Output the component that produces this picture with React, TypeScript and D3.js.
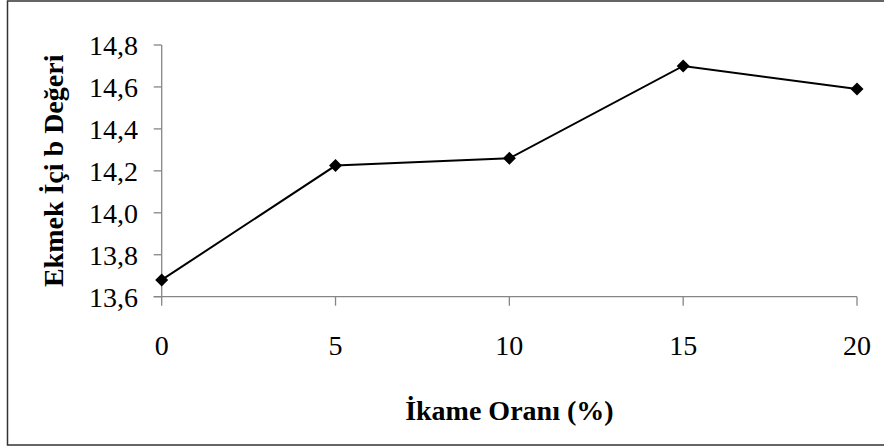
import React from "react";
import * as d3 from "d3";

// Substitution ratio (%) and crumb b* value
const ratios: number[] = [0, 5, 10, 15, 20];
const bValues: number[] = [13.68, 14.225, 14.26, 14.7, 14.59];
const yTicks: number[] = [13.6, 13.8, 14.0, 14.2, 14.4, 14.6, 14.8];
const xTicks: number[] = [0, 5, 10, 15, 20];

const xTitle = "İkame Oranı (%)";
const yTitle = "Ekmek İçi b Değeri";

const W = 884;
const H = 446;
const FONT = "'Liberation Serif', 'Times New Roman', serif";

export default function App() {
  const x = d3.scaleLinear().domain([0, 20]).range([161.7, 857]);
  const y = d3.scaleLinear().domain([13.6, 14.8]).range([296.7, 45]);

  const line = d3
    .line<number>()
    .x((_, i) => x(ratios[i]))
    .y((d) => y(d));

  const axisColor = "#868686";
  const diamond = (cx: number, cy: number) =>
    `M${cx},${cy - 6.5}L${cx + 6.5},${cy}L${cx},${cy + 6.5}L${cx - 6.5},${cy}Z`;

  return (
    <svg
      width={W}
      height={H}
      style={{ position: "absolute", left: 0, top: 0, display: "block", background: "#fff" }}
    >
      {/* outer frame */}
      <rect x={7.5} y={1} width={W + 10} height={444} fill="none" stroke="#333" strokeWidth={1.5} />

      {/* y axis */}
      <line x1={x(0)} x2={x(0)} y1={y(14.8)} y2={y(13.6)} stroke={axisColor} strokeWidth={1.3} />
      {yTicks.map((t) => (
        <g key={t}>
          <line x1={x(0) - 8} x2={x(0)} y1={y(t)} y2={y(t)} stroke={axisColor} strokeWidth={1.3} />
          <text x={138} y={y(t)} dy="0.35em" textAnchor="end" fontSize={28} fontFamily={FONT} fill="#000">
            {d3.format(".1f")(t).replace(".", ",")}
          </text>
        </g>
      ))}

      {/* x axis */}
      <line x1={x(0) - 8} x2={x(20)} y1={y(13.6)} y2={y(13.6)} stroke={axisColor} strokeWidth={1.3} />
      {xTicks.map((t) => (
        <g key={t}>
          <line x1={x(t)} x2={x(t)} y1={y(13.6)} y2={y(13.6) + 9} stroke={axisColor} strokeWidth={1.3} />
          <text x={x(t)} y={345} dy="0.35em" textAnchor="middle" fontSize={28} fontFamily={FONT} fill="#000">
            {t}
          </text>
        </g>
      ))}

      {/* series */}
      <path d={line(bValues) ?? ""} fill="none" stroke="#000" strokeWidth={2} />
      {bValues.map((v, i) => (
        <path key={i} d={diamond(x(ratios[i]), y(v))} fill="#000" />
      ))}

      {/* axis titles */}
      <text
        x={(x(0) + x(20)) / 2}
        y={410}
        dy="0.35em"
        textAnchor="middle"
        fontSize={28}
        fontFamily={FONT}
        fontWeight="bold"
        fill="#000"
      >
        {xTitle}
      </text>
      <text
        transform={`translate(53, ${(y(13.6) + y(14.8)) / 2}) rotate(-90)`}
        dy="0.35em"
        textAnchor="middle"
        fontSize={28}
        fontFamily={FONT}
        fontWeight="bold"
        fill="#000"
      >
        {yTitle}
      </text>
    </svg>
  );
}
